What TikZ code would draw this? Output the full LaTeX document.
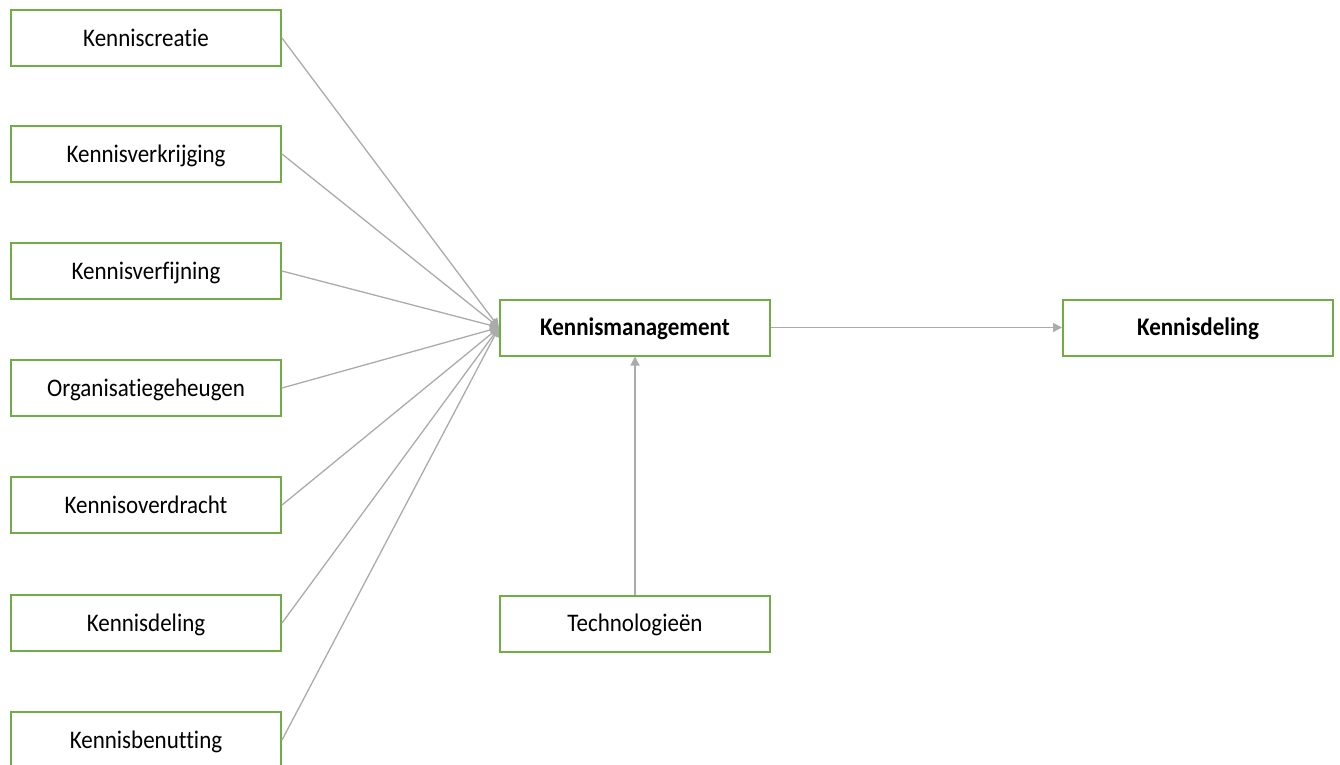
\documentclass[tikz,border=0pt]{standalone}
\usepackage{fontspec}
\setmainfont{Carlito}[Ligatures=NoCommon]
\usetikzlibrary{arrows.meta}
\definecolor{boxgreen}{HTML}{70AD47}
\definecolor{linegrey}{HTML}{ABABAB}
\newcommand{\lbl}[1]{\scalebox{1}[1.1]{#1}}
\begin{document}
\begin{tikzpicture}[x=1pt,y=-1pt,
  box/.style={draw=boxgreen,line width=2pt,fill=white,minimum width=270pt,minimum height=56pt,inner sep=0pt,text height=16pt,text depth=0pt,font=\fontsize{23}{26}\selectfont},
  boldbox/.style={box,font=\fontsize{23}{26}\selectfont\bfseries},
  conn/.style={draw=linegrey,line width=1.3pt,-{Triangle[length=9pt,width=9pt]}}]
\useasboundingbox (0,0) rectangle (1340,764);
\clip (0,0) rectangle (1340,764);
\node[box] (a1) at (146,38) {\lbl{Kenniscreatie}};
\node[box] (a2) at (146,154) {\lbl{Kennisverkrijging}};
\node[box] (a3) at (146,271) {\lbl{Kennisverfijning}};
\node[box] (a4) at (146,388) {\lbl{Organisatiegeheugen}};
\node[box] (a5) at (146,505) {\lbl{Kennisoverdracht}};
\node[box] (a6) at (146,623) {\lbl{Kennisdeling}};
\node[box] (a7) at (146,740) {\lbl{Kennisbenutting}};
\node[boldbox] (km) at (635,327.5) {\lbl{Kennismanagement}};
\node[boldbox] (kd) at (1198,327.5) {\lbl{Kennisdeling}};
\node[box] (tech) at (635,623.5) {\lbl{Technologieën}};
\foreach \i in {1,...,7} {\draw[conn] (a\i.east) -- (km.west);}
\draw[conn] (km.east) -- (kd.west);
\draw[conn] (tech.north) -- (km.south);
\end{tikzpicture}
\end{document}
